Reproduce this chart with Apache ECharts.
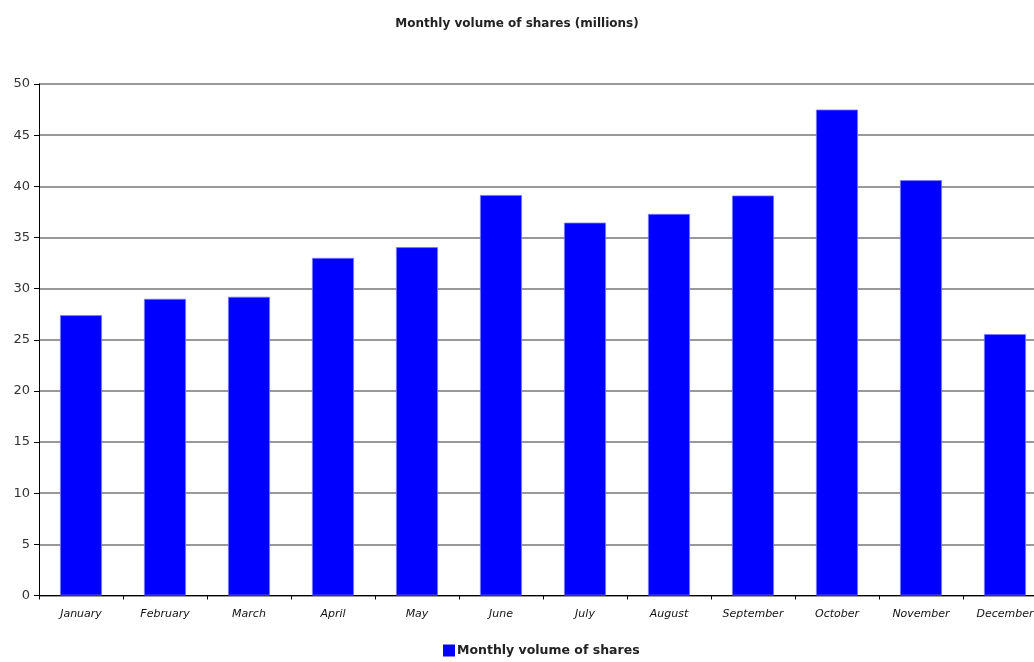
<!DOCTYPE html>
<html>
<head>
<meta charset="utf-8">
<script src="https://cdn.jsdelivr.net/npm/echarts@6/dist/echarts.min.js"></script>
<style>
  html, body { margin: 0; padding: 0; background: #fff; }
  #chart { width: 1034px; height: 662px; }
</style>
</head>
<body>
<div id="chart"></div>
<script>
// Monthly trading volume, in millions of shares
const months = ['January', 'February', 'March', 'April', 'May', 'June',
                'July', 'August', 'September', 'October', 'November', 'December'];
const volumes = [27.4, 29.0, 29.2, 33.0, 34.05, 39.15, 36.45, 37.3, 39.1, 47.5, 40.6, 25.55];
const seriesName = 'Monthly volume of shares';
const chartTitle = 'Monthly volume of shares (millions)';

const font = 'DejaVu Sans, Verdana, sans-serif';
const chart = echarts.init(document.getElementById('chart'), null, { renderer: 'canvas' });

chart.setOption({
  animation: false,
  title: {
    text: chartTitle,
    left: 'center',
    top: 13,
    textStyle: { fontFamily: font, fontSize: 12, fontWeight: 'bold', color: '#222' }
  },
  legend: {
    bottom: 0,
    left: 438,
    itemWidth: 12,
    itemHeight: 12,
    itemGap: 4,
    icon: 'rect',
    itemStyle: { borderWidth: 0 },
    textStyle: { fontFamily: font, fontSize: 12.5, fontWeight: 'bold', color: '#222', padding: [0, 0, 0, -3] },
    data: [seriesName]
  },
  // the plot runs a little past the right edge of the page, so the last bar sits near the edge
  grid: { left: 39, top: 84, width: 1008, bottom: 66.5, containLabel: false, outerBoundsMode: 'none' },
  xAxis: {
    type: 'category',
    data: months,
    axisLine: { lineStyle: { color: '#000', width: 1 } },
    axisTick: { show: true, length: 4, lineStyle: { color: '#000' } },
    axisLabel: {
      fontFamily: font, fontSize: 11, fontStyle: 'italic', fontWeight: 'normal',
      color: '#111', margin: 13, interval: 0
    },
    splitLine: { show: false }
  },
  yAxis: {
    type: 'value',
    min: 0,
    max: 50,
    interval: 5,
    axisLine: { show: true, lineStyle: { color: '#000', width: 1 } },
    axisTick: { show: true, length: 5, lineStyle: { color: '#000' } },
    axisLabel: { fontFamily: font, fontSize: 13, color: '#333', margin: 9 },
    splitLine: { lineStyle: { color: '#777', width: 1.5 } }
  },
  series: [{
    name: seriesName,
    type: 'bar',
    data: volumes,
    barWidth: '50%',
    itemStyle: { color: '#0000ff', borderColor: '#7a7aff', borderWidth: 0.8 }
  }]
});
</script>
</body>
</html>
